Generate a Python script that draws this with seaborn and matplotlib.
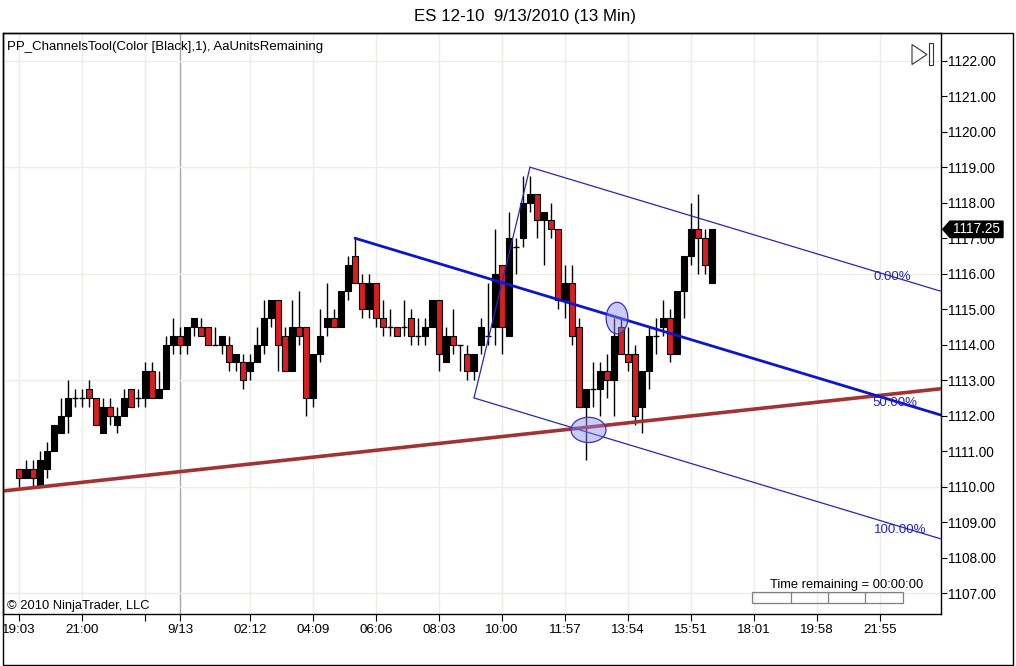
import numpy as np
import matplotlib
matplotlib.use("Agg")
import matplotlib.pyplot as plt
import matplotlib.transforms as mtransforms
from matplotlib.patches import Ellipse, Polygon, Rectangle
import seaborn as sns
import pandas as pd

# ---------------- data ----------------
opens = [1110.50, 1110.25, 1110.50, 1110.00, 1110.50, 1111.00, 1111.50, 1112.00, 1112.50, 1112.50,
         1112.75, 1112.50, 1111.50, 1112.25, 1111.75, 1112.00, 1112.75, 1112.50, 1112.50, 1113.25,
         1112.50, 1112.75, 1114.00, 1114.25, 1114.00, 1114.50, 1114.50, 1114.50, 1114.00, 1114.00,
         1114.00, 1113.50, 1113.50, 1113.25, 1113.50, 1114.00, 1114.75, 1115.25, 1114.25, 1113.25,
         1114.50, 1114.50, 1112.50, 1113.75, 1114.50, 1114.75, 1114.50, 1115.50, 1116.50, 1115.75,
         1115.00, 1115.75, 1114.75, 1114.50, 1114.50, 1114.50, 1114.75, 1114.25, 1114.25, 1114.50,
         1115.25, 1113.50, 1114.25, 1114.00, 1113.75, 1113.25, 1114.00, 1114.25, 1114.50, 1116.25,
         1114.25, 1116.75, 1117.00, 1118.00, 1118.25, 1117.50, 1117.50, 1117.25, 1115.25, 1115.75,
         1114.50, 1112.25, 1112.75, 1112.75, 1113.25, 1113.00, 1114.50, 1113.75, 1113.75, 1112.25,
         1113.25, 1114.25, 1114.50, 1114.75, 1113.75, 1115.50, 1116.50, 1117.25, 1117.00, 1115.75]
highs = [1110.50, 1110.75, 1110.75, 1111.00, 1111.25, 1111.75, 1112.50, 1113.00, 1112.75, 1112.75,
         1113.00, 1112.50, 1112.50, 1112.50, 1112.25, 1112.75, 1112.75, 1112.75, 1113.50, 1113.50,
         1113.25, 1114.25, 1114.75, 1114.50, 1114.50, 1114.75, 1114.75, 1114.50, 1114.50, 1114.25,
         1114.25, 1113.75, 1113.75, 1113.75, 1114.50, 1115.25, 1115.25, 1115.25, 1114.50, 1115.25,
         1115.50, 1114.50, 1113.75, 1115.00, 1115.75, 1115.00, 1115.50, 1116.50, 1117.00, 1116.00,
         1116.00, 1115.75, 1115.25, 1115.00, 1114.50, 1115.25, 1115.00, 1114.75, 1114.75, 1115.25,
         1115.25, 1114.50, 1115.00, 1114.00, 1114.00, 1113.75, 1114.75, 1115.75, 1117.25, 1116.25,
         1117.75, 1117.00, 1118.75, 1118.75, 1118.25, 1117.75, 1118.00, 1117.25, 1116.25, 1116.25,
         1114.75, 1112.75, 1113.50, 1113.50, 1113.75, 1114.75, 1114.75, 1114.50, 1114.00, 1113.25,
         1114.50, 1114.75, 1115.25, 1115.00, 1115.50, 1116.50, 1118.00, 1118.25, 1117.25, 1117.25]
lows = [1110.00, 1110.25, 1110.00, 1110.00, 1110.25, 1111.00, 1111.50, 1111.50, 1112.25, 1112.25,
        1112.25, 1111.75, 1111.50, 1111.75, 1111.50, 1112.00, 1112.25, 1112.25, 1112.25, 1112.50,
        1112.50, 1112.75, 1113.75, 1113.75, 1113.75, 1114.25, 1114.25, 1114.00, 1114.00, 1113.75,
        1113.25, 1113.25, 1112.75, 1113.00, 1113.50, 1113.75, 1114.50, 1113.25, 1113.25, 1113.25,
        1114.00, 1112.00, 1112.25, 1113.50, 1114.25, 1114.50, 1114.50, 1115.25, 1115.75, 1114.75,
        1114.75, 1114.50, 1114.25, 1114.25, 1114.25, 1114.25, 1114.00, 1114.00, 1114.00, 1114.50,
        1113.25, 1113.50, 1113.75, 1113.25, 1113.00, 1113.00, 1113.75, 1114.00, 1114.00, 1113.75,
        1114.25, 1116.00, 1116.75, 1117.75, 1117.00, 1116.25, 1117.00, 1115.00, 1114.75, 1114.00,
        1112.25, 1110.75, 1112.25, 1112.00, 1112.50, 1112.00, 1113.75, 1113.25, 1111.75, 1111.50,
        1112.75, 1113.75, 1114.25, 1113.50, 1113.75, 1114.75, 1116.25, 1116.00, 1116.00, 1115.75]
closes = [1110.25, 1110.50, 1110.25, 1110.75, 1111.00, 1111.75, 1112.00, 1112.50, 1112.50, 1112.50,
          1112.50, 1111.75, 1112.25, 1112.00, 1112.00, 1112.50, 1112.25, 1112.50, 1113.25, 1112.50,
          1112.75, 1114.00, 1114.25, 1114.00, 1114.50, 1114.75, 1114.25, 1114.00, 1114.00, 1114.25,
          1113.50, 1113.75, 1113.00, 1113.50, 1114.00, 1114.75, 1115.25, 1114.00, 1113.25, 1114.50,
          1114.25, 1112.50, 1113.75, 1114.25, 1114.75, 1114.50, 1115.50, 1116.25, 1115.75, 1115.00,
          1115.75, 1114.75, 1114.50, 1114.50, 1114.25, 1114.50, 1114.25, 1114.25, 1114.50, 1115.25,
          1113.75, 1114.25, 1114.00, 1114.00, 1113.25, 1113.75, 1114.50, 1114.25, 1116.00, 1114.50,
          1117.00, 1116.75, 1118.00, 1118.25, 1117.50, 1117.75, 1117.25, 1115.25, 1115.75, 1114.25,
          1112.25, 1112.75, 1112.75, 1113.25, 1113.00, 1114.25, 1113.75, 1113.50, 1112.00, 1113.25,
          1114.25, 1114.25, 1114.75, 1113.75, 1115.50, 1116.50, 1117.25, 1117.00, 1116.25, 1117.25]

tick_pos = [0, 9, 18, 23, 33, 42, 51, 60, 69, 78, 87, 96, 105, 114, 123]
tick_labels = ["19:03", "21:00", "", "9/13", "02:12", "04:09", "06:06", "08:03", "10:00",
               "11:57", "13:54", "15:51", "18:01", "19:58", "21:55"]
price_ticks = list(range(1107, 1123))
grid_prices = [1107, 1110, 1113, 1116, 1119, 1122]

# trendline (bar index, price)
trend_x = [-2.29, 131.71]
trend_y = [1109.88, 1112.76]
# pitchfork anchors: A (handle), B (low), C (high)
fork_x = [48, 65, 73]
fork_y = [1117.00, 1112.50, 1119.00]
fork_labels = ["0.00%", "50.00%", "100.00%"]
# marked zones (centre bar, centre price, width bars, height points)
ell_x = [85.43, 81.36]
ell_y = [1114.75, 1111.60]
ell_w = [3.1, 5.0]
ell_h = [0.89, 0.71]

# ---------------- figure ----------------
W, H = 1016, 666
sns.set_theme(style="white")
plt.rcParams["font.family"] = ["Liberation Sans", "DejaVu Sans"]

fig = plt.figure(figsize=(W / 100, H / 100), dpi=100)
fig.patch.set_facecolor("white")

def fx(px):
    return px / W

def fy(py):
    return 1 - py / H

L, R, T, B = 3, 941, 33, 614
ax = fig.add_axes([fx(L), fy(B), fx(R) - fx(L), fy(T) - fy(B)])
ax.set_facecolor("white")

def xi(px):
    return (px - 19) / 7.0

def yp(py):
    return 1122 - (py - 60.7) / 35.5

ax.set_xlim(xi(L), xi(R))
ax.set_ylim(yp(B), yp(T))

# grid
for i, t in enumerate(tick_pos):
    if tick_labels[i] == "9/13":
        ax.axvline(t, color="#A8A8A8", lw=1, zorder=0)
    else:
        ax.axvline(t, color="#EDEDE6", lw=1, zorder=0)
for gp in grid_prices:
    ax.axhline(gp, color="#EDEDE6", lw=1, zorder=0)

# candles
df = pd.DataFrame({"o": opens, "h": highs, "l": lows, "c": closes})
df["i"] = np.arange(len(df))
ax.vlines(df["i"], df["l"], df["h"], color="black", lw=1.0, zorder=2)
body = df[df["o"] != df["c"]]
cols = np.where(body["c"] > body["o"], "black", "#D81E1E")
ax.bar(body["i"], (body["c"] - body["o"]).abs(), bottom=np.minimum(body["o"], body["c"]),
       width=0.72, color=cols, edgecolor="black", linewidth=0.8, zorder=3)
doji = df[df["o"] == df["c"]]
ax.hlines(doji["o"], doji["i"] - 0.36, doji["i"] + 0.36, color="black", lw=1.0, zorder=3)

# trendline
sns.lineplot(x=trend_x, y=trend_y, ax=ax, color="#A33232", lw=2.6, zorder=5)

# pitchfork
ax_, ay_ = fork_x[0], fork_y[0]
bx, by = fork_x[1], fork_y[1]
cx, cy = fork_x[2], fork_y[2]
mx, my = (bx + cx) / 2, (by + cy) / 2
slope = (my - ay_) / (mx - ax_)
xe = xi(R)
sns.lineplot(x=[ax_, xe], y=[ay_, ay_ + slope * (xe - ax_)], ax=ax, color="#0A14D2", lw=2.0, zorder=6)
sns.lineplot(x=[cx, xe], y=[cy, cy + slope * (xe - cx)], ax=ax, color="#2525C8", lw=0.9, zorder=6)
sns.lineplot(x=[bx, xe], y=[by, by + slope * (xe - bx)], ax=ax, color="#2525C8", lw=0.9, zorder=6)
sns.lineplot(x=[bx, cx], y=[by, cy], ax=ax, color="#2525C8", lw=0.9, zorder=6)

lab_x = [127.4, 128.4, 129.6]
lab_base = [cy, ay_, by]
lab_base_x = [cx, ax_, bx]
for k in range(3):
    yy = lab_base[k] + slope * (lab_x[k] - 4 - lab_base_x[k])
    ax.text(lab_x[k], yy - 0.1, fork_labels[k], color="#2323C0", fontsize=9.5,
            ha="right", va="center", zorder=7)

# ellipses
for k in range(2):
    ax.add_patch(Ellipse((ell_x[k], ell_y[k]), ell_w[k], ell_h[k],
                         facecolor=(0.55, 0.55, 0.95, 0.45), edgecolor="#3434C0",
                         lw=0.9, zorder=8))

# axes styling
for s in ["left", "top", "bottom", "right"]:
    ax.spines[s].set_visible(True)
    ax.spines[s].set_color("black")
    ax.spines[s].set_linewidth(1.0)
ax.yaxis.tick_right()
ax.set_yticks(price_ticks)
ax.set_yticklabels([f"{p:.2f}" for p in price_ticks])
ax.set_xticks(tick_pos)
ax.set_xticklabels(tick_labels)
ax.tick_params(axis="y", which="both", right=True, left=False, direction="out",
               length=4, width=0.8, color="black", pad=1, labelsize=9.8, labelcolor="black")
ax.tick_params(axis="x", which="both", bottom=True, direction="out",
               length=5, width=0.8, color="black", pad=2, labelsize=9.6, labelcolor="black")
ax.grid(False)

# last price marker
bt = mtransforms.blended_transform_factory(fig.transFigure, ax.transData)
last = closes[-1]
hh = 8.2 / 35.5
poly = Polygon([(fx(942.7), last), (fx(950), last + hh), (fx(1003), last + hh),
                (fx(1003), last - hh), (fx(950), last - hh)], closed=True,
               transform=bt, facecolor="black", edgecolor="black", clip_on=False, zorder=20)
fig.add_artist(poly)
fig.text(fx(976), 0, f"{last:.2f}", transform=bt, color="white", fontsize=9.8,
         ha="center", va="center", zorder=21).set_y(last)

# outer frame
fig.add_artist(Rectangle((fx(2.5), fy(665)), fx(1013) - fx(2.5), fy(33) - fy(665),
                         transform=fig.transFigure, fill=False, edgecolor="black", lw=1.0))

# play icon
fig.add_artist(Polygon([(fx(912), fy(44.5)), (fx(927), fy(54.5)), (fx(912), fy(64.5))],
                       closed=True, transform=fig.transFigure, fill=False,
                       edgecolor="#333333", lw=0.8))
fig.add_artist(Rectangle((fx(929), fy(64.5)), fx(3.5), fy(43) - fy(64.5),
                         transform=fig.transFigure, fill=False, edgecolor="#333333", lw=0.8))

# texts
fig.text(fx(525), fy(17), "ES 12-10  9/13/2010 (13 Min)", ha="center", va="center",
         fontsize=12.2, color="black")
fig.text(fx(7), fy(47), "PP_ChannelsTool(Color [Black],1), AaUnitsRemaining",
         ha="left", va="center", fontsize=9.5, color="black")
fig.text(fx(7), fy(606), "\u00a9 2010 NinjaTrader, LLC", ha="left", va="center",
         fontsize=9.3, color="black")
fig.text(fx(846.5), fy(585), "Time remaining = 00:00:00", ha="center", va="center",
         fontsize=9.3, color="black")
fig.add_artist(Rectangle((fx(752.3), fy(602.7)), fx(902.7) - fx(752.3), fy(592.3) - fy(602.7),
                         transform=fig.transFigure, fill=False, edgecolor="#808080", lw=0.9))
for dx in [790.7, 827.7, 864.7]:
    fig.add_artist(plt.Line2D([fx(dx), fx(dx)], [fy(592.3), fy(602.7)],
                              transform=fig.transFigure, color="#808080", lw=0.9))

fig.savefig("out.png", dpi=100, facecolor="white")
